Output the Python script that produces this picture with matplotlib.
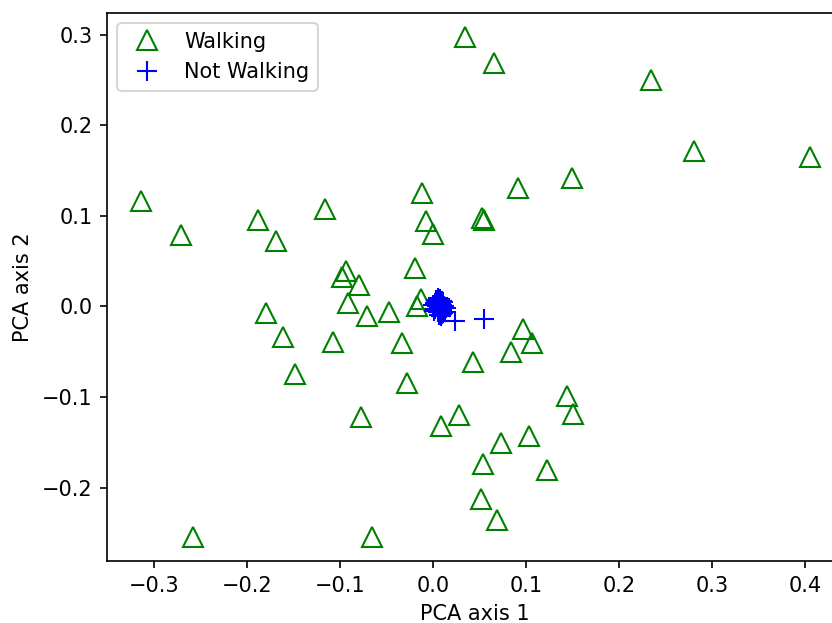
import matplotlib
matplotlib.use("Agg")
import matplotlib.pyplot as plt

walk_x = [-0.314, -0.271, -0.258, -0.188, -0.169, -0.180, -0.162, -0.149, -0.116, -0.108,
          -0.094, -0.098, -0.092, -0.080, -0.078, -0.071, -0.066, -0.048, -0.034, -0.028,
          -0.020, -0.017, -0.013, -0.012, -0.008, 0.000, 0.008, 0.028, 0.034, 0.043,
          0.053, 0.055, 0.054, 0.051, 0.065, 0.069, 0.073, 0.084, 0.091, 0.097,
          0.106, 0.103, 0.123, 0.144, 0.151, 0.149, 0.234, 0.281, 0.405]
walk_y = [0.116, 0.079, -0.254, 0.095, 0.072, -0.007, -0.034, -0.074, 0.108, -0.039,
          0.039, 0.033, 0.004, 0.024, -0.122, -0.010, -0.254, -0.006, -0.040, -0.085,
          0.043, 0.001, 0.008, 0.125, 0.094, 0.080, -0.132, -0.120, 0.298, -0.061,
          0.098, 0.096, -0.174, -0.212, 0.269, -0.236, -0.151, -0.050, 0.131, -0.025,
          -0.040, -0.143, -0.181, -0.099, -0.119, 0.142, 0.250, 0.172, 0.165]

not_x = [0.000, 0.002, 0.004, 0.006, 0.008, 0.010, 0.012, 0.014, 0.003, 0.005,
         0.007, 0.009, 0.011, 0.001, 0.006, 0.008, 0.004, 0.010, 0.013, 0.007,
         0.005, 0.009, 0.002, 0.011, 0.006, 0.023, 0.055]
not_y = [0.002, -0.003, 0.005, -0.001, 0.004, -0.004, 0.001, -0.002, 0.007, -0.006,
         0.008, -0.008, 0.005, -0.005, 0.003, -0.010, 0.000, 0.006, -0.006, -0.003,
         0.009, 0.002, 0.004, -0.007, -0.009, -0.016, -0.014]

DPI = 150
fig = plt.figure(figsize=(832 / DPI, 623 / DPI), dpi=DPI)
ax = fig.add_axes([0.1286, 0.0995, 0.8846, 0.8796])
ax.plot(walk_x, walk_y, linestyle='none', marker='^', markersize=9.5,
        markerfacecolor='none', markeredgecolor='green', markeredgewidth=1.0,
        label='Walking')
ax.plot(not_x, not_y, linestyle='none', marker='+', markersize=10,
        color='blue', markeredgewidth=1.0, label='Not Walking')
ax.set_xlim(-0.351, 0.441)
ax.set_ylim(-0.281, 0.324)
ax.set_xlabel('PCA axis 1')
ax.set_ylabel('PCA axis 2')
ax.legend(loc='upper left')
fig.savefig('out.png', dpi=DPI)
